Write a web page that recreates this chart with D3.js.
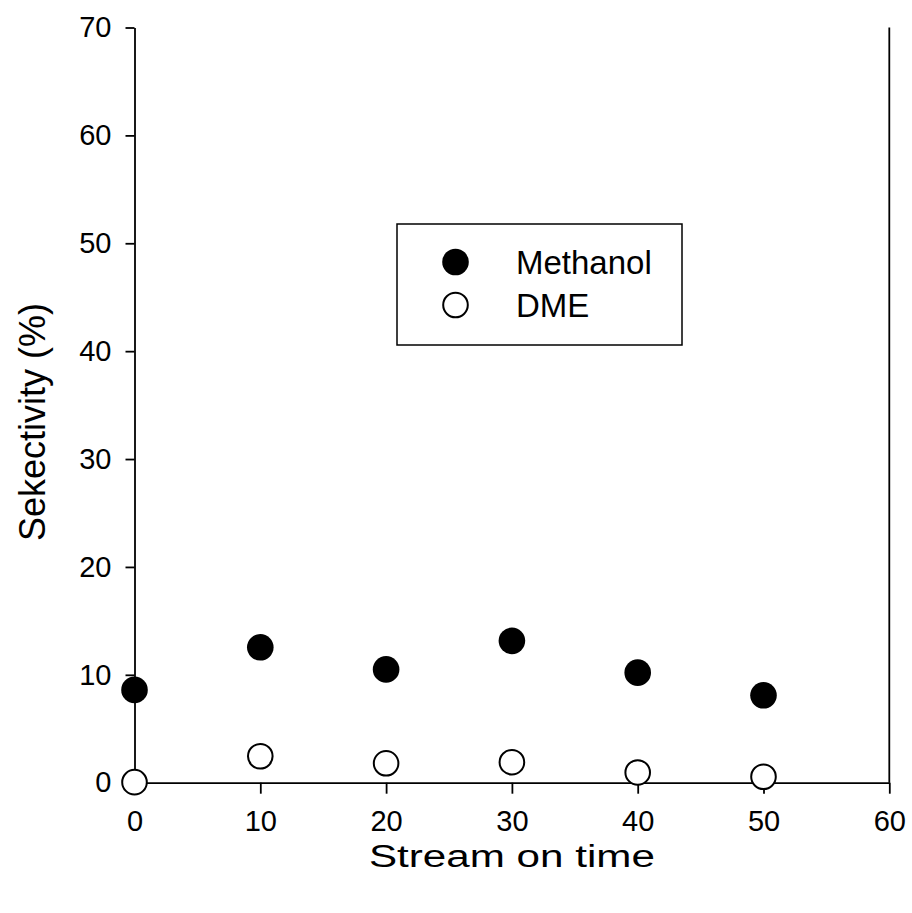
<!DOCTYPE html>
<html>
<head>
<meta charset="utf-8">
<script src="https://cdn.jsdelivr.net/npm/d3@7"></script>
<style>
  html, body { margin: 0; padding: 0; background: #fff; }
  svg { display: block; }
  text { font-family: "Liberation Sans", Arial, Helvetica, sans-serif; fill: #000; }
</style>
</head>
<body>
<svg id="chart" width="912" height="913"></svg>
<script>
// Selectivity over time on stream
const streamTime = [0, 10, 20, 30, 40, 50];
const methanol = [8.6, 12.55, 10.5, 13.15, 10.2, 8.1];
const dme = [0.05, 2.45, 1.8, 1.9, 0.95, 0.55];
const xTicks = [0, 10, 20, 30, 40, 50, 60];
const yTicks = [0, 10, 20, 30, 40, 50, 60, 70];
const seriesNames = ["Methanol", "DME"];
const xTitle = "Stream on time";
const yTitle = "Sekectivity (%)";

const svg = d3.select("#chart");
const plotLeft = 134.5, plotRight = 889.3, plotTop = 27.5, plotBottom = 782.7;

const x = d3.scaleLinear().domain([0, 60]).range([plotLeft, plotRight]);
const y = d3.scaleLinear().domain([0, 70]).range([plotBottom, plotTop]);

const lw = 1.8;

// bottom axis
const gx = svg.append("g")
  .attr("transform", `translate(0,${plotBottom})`)
  .call(d3.axisBottom(x).tickValues(xTicks).tickSizeInner(11).tickSizeOuter(0).tickPadding(17));
// left axis
const gy = svg.append("g")
  .attr("transform", `translate(${plotLeft},0)`)
  .call(d3.axisLeft(y).tickValues(yTicks).tickSizeInner(9).tickSizeOuter(0).tickPadding(14));

[gx, gy].forEach(g => {
  g.selectAll(".domain").attr("stroke", "#000").attr("stroke-width", lw);
  g.selectAll(".tick line").attr("stroke", "#000").attr("stroke-width", lw);
  g.selectAll(".tick text")
    .style("font-family", '"Liberation Sans", Arial, sans-serif')
    .style("font-size", "29px")
    .attr("fill", "#000");
});

// right frame line
svg.append("line")
  .attr("x1", x(60)).attr("x2", x(60))
  .attr("y1", y(70)).attr("y2", y(0))
  .attr("stroke", "#000").attr("stroke-width", lw);

// markers
const r = 13.3;
svg.append("g").selectAll("circle")
  .data(streamTime.map((t, i) => [t, methanol[i]]))
  .join("circle")
  .attr("cx", d => x(d[0])).attr("cy", d => y(d[1])).attr("r", r)
  .attr("fill", "#000");

svg.append("g").selectAll("circle")
  .data(streamTime.map((t, i) => [t, dme[i]]))
  .join("circle")
  .attr("cx", d => x(d[0])).attr("cy", d => y(d[1])).attr("r", r - 1)
  .attr("fill", "#fff").attr("stroke", "#000").attr("stroke-width", 2);

// legend
const lg = svg.append("g");
lg.append("rect")
  .attr("x", 397).attr("y", 224).attr("width", 285).attr("height", 121)
  .attr("fill", "#fff").attr("stroke", "#000").attr("stroke-width", 1.5);
const legendY = [262, 305];
seriesNames.forEach((name, i) => {
  lg.append("circle")
    .attr("cx", 455.5).attr("cy", legendY[i]).attr("r", i === 0 ? 13.3 : 12.3)
    .attr("fill", i === 0 ? "#000" : "#fff")
    .attr("stroke", "#000").attr("stroke-width", i === 0 ? 0 : 2);
  lg.append("text")
    .attr("x", 516).attr("y", legendY[i] + 11.5)
    .style("font-size", "33px")
    .text(name);
});

// axis titles
svg.append("text")
  .attr("x", (plotLeft + plotRight) / 2).attr("y", 867)
  .attr("text-anchor", "middle")
  .attr("textLength", 286)
  .attr("lengthAdjust", "spacingAndGlyphs")
  .style("font-size", "31px")
  .text(xTitle);

svg.append("text")
  .attr("transform", `translate(45,422) rotate(-90)`)
  .attr("text-anchor", "middle")
  .style("font-size", "36px")
  .text(yTitle);
</script>
</body>
</html>
